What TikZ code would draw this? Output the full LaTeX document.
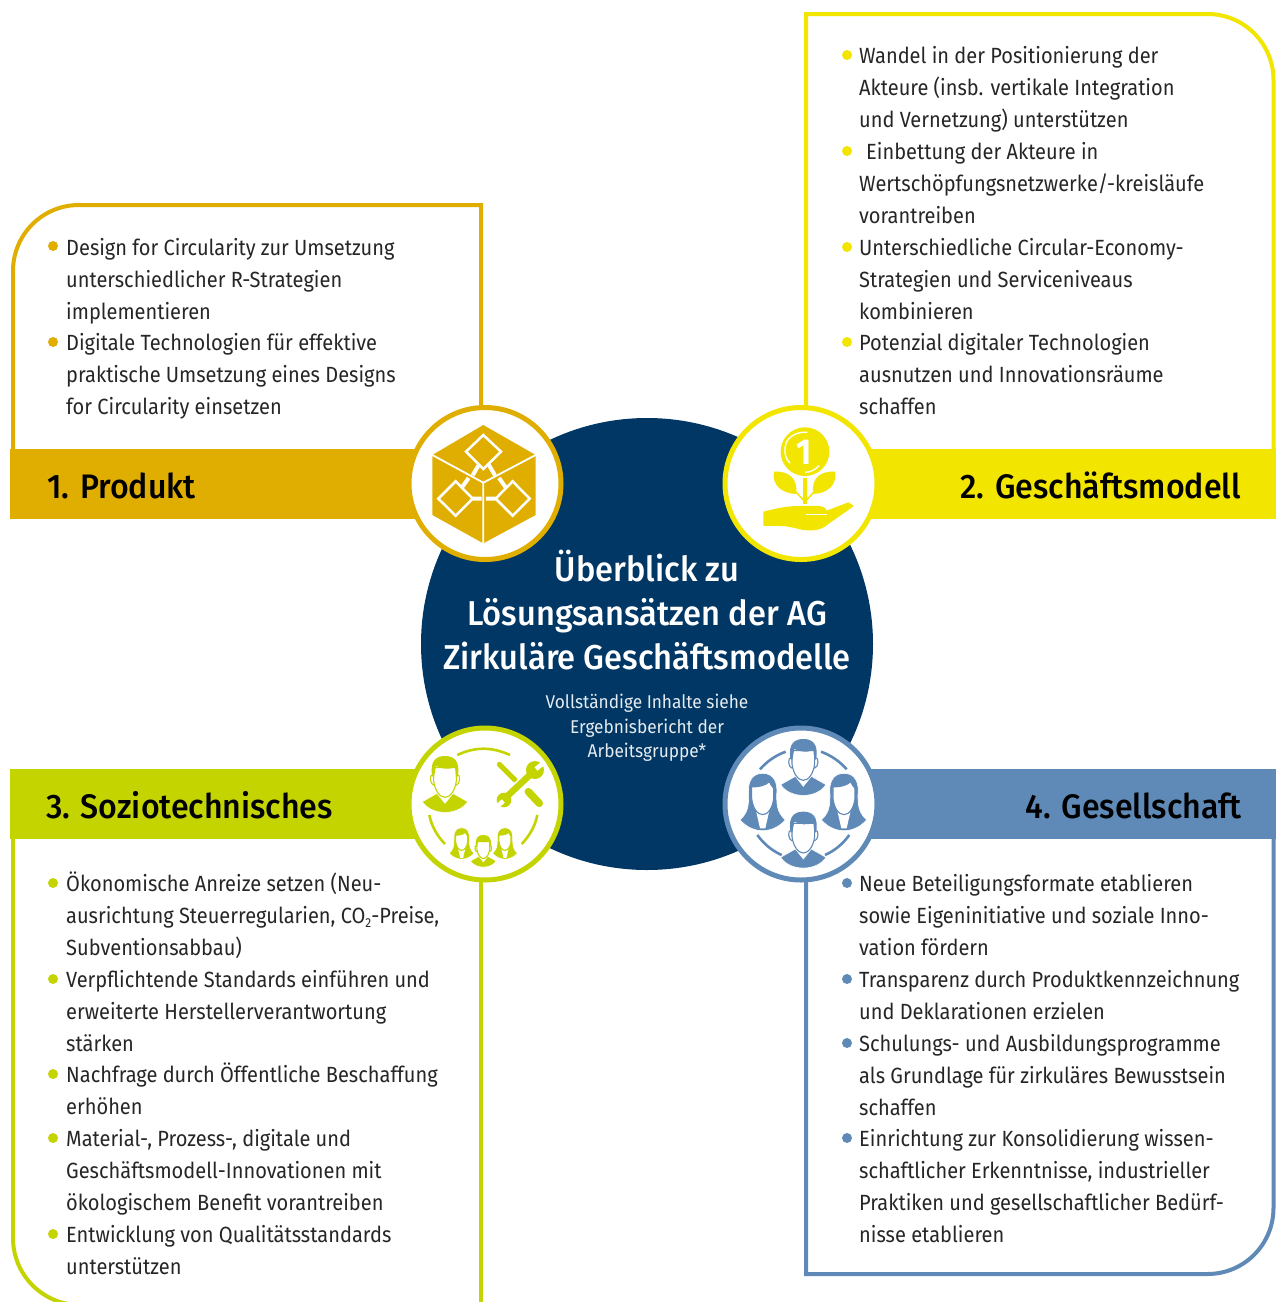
\documentclass[tikz,border=0pt]{standalone}
\usepackage{fontspec}
\setmainfont{Fira Sans}[FakeStretch=0.91]
\newfontfamily\hd{Fira Sans Medium}[FakeStretch=0.945]
\newfontfamily\subfnt{Fira Sans}[FakeStretch=0.935]
\definecolor{navy}{HTML}{003764}
\definecolor{cA}{HTML}{E0AE00}
\definecolor{cB}{HTML}{F2E500}
\definecolor{cC}{HTML}{C4D400}
\definecolor{cD}{HTML}{5F8AB8}
\tikzset{
 band/.style={fill=#1,draw=none},
 outline/.style={draw=#1,line width=4pt,fill=none},
 disc/.style={circle,draw=#1,fill=white,line width=5pt,minimum size=152pt,inner sep=0pt},
 bul/.style={circle,fill=#1,draw=none,minimum size=10pt,inner sep=0pt},
 item/.style={anchor=north west,inner sep=0pt,align=left,font=\fontsize{22}{31.9}\selectfont,text=black!85},
 head/.style={inner sep=0pt,font=\hd\fontsize{34}{40}\selectfont,text=black},
 ztitle/.style={inner sep=0pt,text=white,align=center,font=\hd\fontsize{34.5}{44}\selectfont},
 zsub/.style={inner sep=0pt,text=white!90!navy,align=center,font=\subfnt\fontsize{18.5}{24.5}\selectfont},
 zoomat/.style 2 args={shift={(#1pt,-#2pt)},x=.3333pt,y=-.3333pt},
}
\newcommand\manicon[4]{\begin{scope}[shift={(#1,#2)},scale=#3]
 \fill[#4,draw=white,line width=.6pt] (-68,137) -- (-24,112) -- (0,142) -- (24,112) -- (68,137) .. controls (40,180) and (-40,180) .. cycle;
 \filldraw[fill=white,draw=#4,line width=1.1pt] (-34,35) -- (-34,75) .. controls (-30,105) and (-15,124) .. (0,124) .. controls (15,124) and (30,105) .. (34,75) -- (34,35) -- cycle;
 \fill[#4] (-38,62) .. controls (-48,10) and (-22,0) .. (0,0) .. controls (22,0) and (48,10) .. (38,62) -- (33,62) -- (30,33) .. controls (10,42) and (-10,38) .. (-27,30) -- (-33,62) -- cycle;
 \draw[#4,line width=1.1pt] (-36,55) .. controls (-48,55) and (-46,85) .. (-33,88);
 \draw[#4,line width=1.1pt] (36,55) .. controls (48,55) and (46,85) .. (33,88);
\end{scope}}
\newcommand\womanicon[4]{\begin{scope}[shift={(#1,#2)},scale=#3]
 \fill[#4,draw=white,line width=.6pt] (0,0) .. controls (-35,0) and (-46,30) .. (-42,65) .. controls (-42,100) and (-45,118) .. (-68,140) .. controls (-45,165) and (-20,172) .. (0,172) .. controls (20,172) and (45,165) .. (68,140) .. controls (45,118) and (42,100) .. (42,65) .. controls (46,30) and (35,0) .. (0,0) -- cycle;
 \fill[white] (-20,112) -- (-8,165) -- (8,165) -- (20,112) -- cycle;
 \filldraw[fill=white,draw=#4,line width=1.1pt] (-33,40) .. controls (-10,42) and (10,35) .. (20,25) .. controls (24,35) and (30,40) .. (33,45) -- (33,75) .. controls (30,105) and (15,124) .. (0,124) .. controls (-15,124) and (-30,105) .. (-33,75) -- cycle;
\end{scope}}
\begin{document}
\begin{tikzpicture}[x=1pt,y=-1pt]
\useasboundingbox (0,0) rectangle (1276,1302);
\fill[white] (0,0) rectangle (1276,1302);
% centre
\node[circle,fill=navy,minimum size=452pt,inner sep=0pt] (centre) at (647,644) {};
% box outlines
\coordinate (a1) at (13,450); \coordinate (a2) at (481,205); \coordinate (a3) at (481,410);
\draw[outline=cA,line join=miter] (a1) -- (13,271) .. controls (13,234.5) and (42.5,205) .. (79,205) -- (a2) -- (a3);
\coordinate (b1) at (806,410); \coordinate (b2) at (806,14); \coordinate (b3) at (1273.5,450);
\draw[outline=cB] (b1) -- (b2) -- (1207.5,14) .. controls (1244,14) and (1273.5,43.5) .. (1273.5,80) -- (b3);
\coordinate (c1) at (13,838); \coordinate (c2) at (481,875); \coordinate (c3) at (481,1302);
\draw[outline=cC] (c1) -- (13,1238) .. controls (13,1275) and (43,1305) .. (80,1305);
\draw[outline=cC] (c2) -- (c3);
\coordinate (d1) at (806,875); \coordinate (d2) at (806,1274); \coordinate (d3) at (1273.5,838);
\draw[outline=cD] (d1) -- (d2) -- (1207.5,1274) .. controls (1244,1274) and (1273.5,1244.5) .. (1273.5,1208) -- (d3);
% bands
\fill[band=cA] (10,449) rectangle (420,519);
\fill[band=cB] (870,449) rectangle (1276,519);
\fill[band=cC] (10,769) rectangle (420,839);
\fill[band=cD] (870,769) rectangle (1276,839);
\node[head,anchor=base west] (h1) at (47,498) {1. Produkt};
\node[head,anchor=base east] (h2) at (1241,498) {2. Geschäftsmodell};
\node[head,anchor=base west] (h3) at (46,818) {3. Soziotechnisches};
\node[head,anchor=base east] (h4) at (1242,818) {4. Gesellschaft};
% discs
\node[disc=cA] (d-a) at (485,483.5) {};
\node[disc=cB] (d-b) at (801,483.5) {};
\node[disc=cC] (d-c) at (485,804) {};
\node[disc=cD] (d-d) at (801,804) {};
% icon 1
\begin{scope}[zoomat={400}{400}]
 \fill[cA] (250,75) -- (407,165) -- (407,345) -- (250,430) -- (97,345) -- (97,165) -- cycle;
 \draw[white,line width=1.8pt] (97,165) -- (250,248) -- (407,165) (250,248) -- (250,430);
 \draw[white,line width=2.5pt] (250,105) -- (303,155) -- (250,207) -- (198,155) -- cycle;
 \draw[white,line width=2.5pt] (167,244) -- (218,296) -- (167,347) -- (115,296) -- cycle;
 \draw[white,line width=2.5pt] (338,244) -- (389,296) -- (338,347) -- (287,296) -- cycle;
 \draw[white,line width=4pt] (238,192) -- (218,226) (206,234) -- (186,262) (265,192) -- (285,226) (297,234) -- (317,262) (218,296) -- (245,296) (258,296) -- (287,296);
\end{scope}
% icon 2
\begin{scope}[zoomat={720}{400}]
 \fill[cB] (255,155) circle[radius=73];
 \draw[white,line width=1.4pt] (200,125) .. controls (212,105) and (235,95) .. (262,97);
 \draw[white,line width=1.4pt] (255,217) .. controls (270,217) and (285,210) .. (297,197);
 \draw[white,line width=1.4pt] (200,125) .. controls (190,150) and (195,175) .. (210,190);
 \node[text=white,inner sep=0pt,font=\bfseries\fontsize{36}{36}\selectfont] (one) at (253,158) {1};
 \fill[cB] (248,235) rectangle (262,312);
 \draw[cB,line width=1.5pt] (255,305) -- (222,270) (255,305) -- (288,270);
 \fill[cB] (228,282) .. controls (185,280) and (155,255) .. (162,215) .. controls (205,212) and (235,235) .. (228,282) -- cycle;
 \fill[cB] (280,282) .. controls (323,280) and (352,255) .. (345,215) .. controls (302,212) and (272,235) .. (280,282) -- cycle;
 \fill[cB] (130,335) .. controls (170,325) and (200,318) .. (240,318) -- (295,318) .. controls (310,318) and (318,325) .. (320,332) -- (385,307) -- (402,318) -- (325,372) .. controls (305,390) and (280,394) .. (250,390) .. controls (225,385) and (205,378) .. (180,378) -- (130,378) -- cycle;
 \draw[white,line width=1pt] (258,345) -- (322,345);
\end{scope}
% icon 3
\begin{scope}[zoomat={400}{720}]
 \draw[cC,line width=2.6pt] (172,105) .. controls (225,80) and (275,80) .. (330,105);
 \draw[cC,line width=2.6pt] (88,285) .. controls (95,320) and (112,348) .. (135,372);
 \draw[cC,line width=2.6pt] (412,285) .. controls (405,320) and (388,348) .. (365,372);
 \manicon{135}{108}{1}{cC}
 \womanicon{185}{323}{.55}{cC}
 \womanicon{315}{323}{.55}{cC}
 \manicon{250}{345}{.57}{cC}
 \draw[cC,line width=5pt,line cap=round] (298,133) -- (345,180);
 \draw[cC,line width=7.5pt,line cap=round] (385,215) -- (418,250);
 \draw[white,line width=9pt] (385,170) -- (325,222);
 \draw[cC,line width=6.5pt] (400,155) -- (315,235);
 \fill[cC] (405,150) circle[radius=27];
 \fill[cC] (312,240) circle[radius=22];
 \draw[white,line width=4.5pt] (408,147) -- (435,125);
 \draw[white,line width=4.5pt] (310,243) -- (285,265);
\end{scope}
% icon 4
\begin{scope}[zoomat={720}{720}]
 \draw[cD,line width=2.6pt] (120,148) .. controls (140,125) and (165,107) .. (197,95);
 \draw[cD,line width=2.6pt] (303,95) .. controls (335,107) and (360,125) .. (380,148);
 \draw[cD,line width=2.6pt] (112,345) .. controls (130,370) and (155,392) .. (185,405);
 \draw[cD,line width=2.6pt] (315,405) .. controls (345,392) and (370,370) .. (388,345);
 \manicon{250}{57}{1}{cD}
 \manicon{250}{275}{1}{cD}
 \womanicon{128}{160}{1}{cD}
 \womanicon{372}{160}{1}{cD}
\end{scope}
% centre text
\node[ztitle] (zt) at (647,610) {Überblick zu\\Lösungsansätzen der AG\\Zirkuläre Geschäftsmodelle};
\node[zsub] (zs) at (647,728) {Vollständige Inhalte siehe\\Ergebnisbericht der\\Arbeitsgruppe*};
% box 1
\foreach \n/\y in {1/246,2/342}{\node[bul=cA] (ba\n) at (53,\y) {};}
\node[item] (ta1) at (66,233) {\strut Design for Circularity zur Umsetzung\\unterschiedlicher R-Strategien\\implementieren};
\node[item] (ta2) at (66,328) {\strut Digitale Technologien für effektive\\praktische Umsetzung eines Designs\\for Circularity einsetzen};
% box 2
\foreach \n/\y in {1/55,2/151,3/247,4/342}{\node[bul=cB] (bb\n) at (847,\y) {};}
\node[item] (tb1) at (859,41) {\strut Wandel in der Positionierung der\\Akteure (insb. vertikale Integration\\und Vernetzung) unterstützen};
\node[item] (tb2) at (859,137) {\strut\hspace*{7pt}Einbettung der Akteure in\\Wertschöpfungsnetzwerke/-kreisläufe\\vorantreiben};
\node[item] (tb3) at (859,233) {\strut Unterschiedliche Circular-Economy-\\Strategien und Serviceniveaus\\kombinieren};
\node[item] (tb4) at (859,328) {\strut Potenzial digitaler Technologien\\ausnutzen und Innovationsräume\\schaffen};
% box 3
\foreach \n/\y in {1/883,2/979,3/1074,4/1138,5/1234}{\node[bul=cC] (bc\n) at (53,\y) {};}
\node[item] (tc1) at (66,869) {\strut Ökonomische Anreize setzen (Neu-\\ausrichtung Steuerregularien, CO\raisebox{-4pt}{\fontsize{13}{13}\selectfont 2}-Preise,\\Subventionsabbau)};
\node[item] (tc2) at (66,965) {\strut Verpflichtende Standards einführen und\\erweiterte Herstellerverantwortung\\stärken};
\node[item] (tc3) at (66,1060) {\strut Nachfrage durch Öffentliche Beschaffung\\erhöhen};
\node[item] (tc4) at (66,1124) {\strut Material-, Prozess-, digitale und\\Geschäftsmodell-Innovationen mit\\ökologischem Benefit vorantreiben};
\node[item] (tc5) at (66,1220) {\strut Entwicklung von Qualitätsstandards\\unterstützen};
% box 4
\foreach \n/\y in {1/883,2/979,3/1043,4/1138}{\node[bul=cD] (bd\n) at (847,\y) {};}
\node[item] (td1) at (859,869) {\strut Neue Beteiligungsformate etablieren\\sowie Eigeninitiative und soziale Inno-\\vation fördern};
\node[item] (td2) at (859,965) {\strut Transparenz durch Produktkennzeichnung\\und Deklarationen erzielen};
\node[item] (td3) at (859,1029) {\strut Schulungs- und Ausbildungsprogramme\\als Grundlage für zirkuläres Bewusstsein\\schaffen};
\node[item] (td4) at (859,1124) {\strut Einrichtung zur Konsolidierung wissen-\\schaftlicher Erkenntnisse, industrieller\\Praktiken und gesellschaftlicher Bedürf-\\nisse etablieren};
\end{tikzpicture}
\end{document}
